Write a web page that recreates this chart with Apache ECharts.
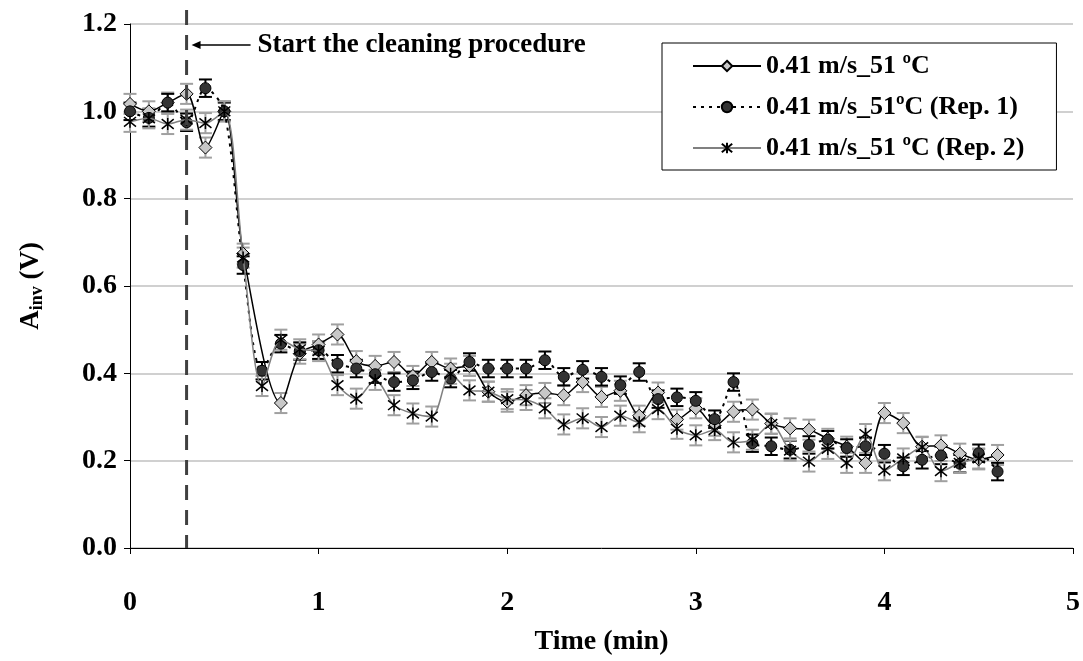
<!DOCTYPE html>
<html>
<head>
<meta charset="utf-8">
<script src="https://cdn.jsdelivr.net/npm/echarts@6/dist/echarts.min.js"></script>
<style>html,body{margin:0;padding:0;background:#fff}#c{width:1083px;height:661px}</style>
</head>
<body>
<div id="c"></div>
<script>
// ---- data (time in min, A_inv in V) ----
const times = [0,0.1,0.2,0.3,0.4,0.5,0.6,0.7,0.8,0.9,1.0,1.1,1.2,1.3,1.4,1.5,1.6,1.7,1.8,1.9,2.0,2.1,2.2,2.3,2.4,2.5,2.6,2.7,2.8,2.9,3.0,3.1,3.2,3.3,3.4,3.5,3.6,3.7,3.8,3.9,4.0,4.1,4.2,4.3,4.4,4.5,4.6];
const seriesNames = ['0.41 m/s_51 ºC', '0.41 m/s_51ºC (Rep. 1)', '0.41 m/s_51 ºC (Rep. 2)'];
const run0 = [1.017,1.0,1.02,1.04,0.917,1.0,0.674,null,0.332,0.445,0.466,0.489,0.428,0.417,0.426,0.394,0.426,0.411,0.417,0.358,0.335,0.35,0.355,0.35,0.38,0.346,0.36,0.303,0.356,0.294,0.32,0.28,0.312,0.317,0.285,0.274,0.271,0.25,0.232,0.195,0.309,0.286,0.232,0.235,0.216,0.203,0.213];
const run1 = [1.0,0.985,1.02,0.975,1.053,1.0,0.648,0.406,0.468,0.451,0.453,0.422,0.411,0.398,0.38,0.384,0.403,0.388,0.426,0.411,0.411,0.411,0.43,0.392,0.408,0.392,0.373,0.403,0.341,0.345,0.337,0.295,0.38,0.24,0.233,0.225,0.236,0.248,0.229,0.233,0.216,0.187,0.202,0.212,0.193,0.217,0.175];
const run2 = [0.976,0.984,0.971,0.981,0.973,1.0,0.665,0.371,0.477,0.455,0.451,0.373,0.342,0.385,0.327,0.308,0.301,0.399,0.361,0.358,0.341,0.339,0.32,0.283,0.297,0.277,0.303,0.288,0.318,0.273,0.258,0.27,0.242,0.248,0.284,0.223,0.198,0.227,0.195,0.261,0.178,0.205,0.231,0.176,0.195,0.205,null];
const err0 = [0.023,0.023,0.023,0.023,0.023,0.023,0.023,0.023,0.023,0.023,0.023,0.023,0.023,0.023,0.023,0.023,0.023,0.023,0.023,0.023,0.023,0.023,0.023,0.023,0.023,0.023,0.023,0.023,0.023,0.023,0.023,0.023,0.023,0.023,0.023,0.023,0.023,0.023,0.023,0.023,0.023,0.023,0.023,0.023,0.023,0.023,0.023];
const err1 = [0.02,0.02,0.02,0.02,0.02,0.02,0.02,0.02,0.02,0.02,0.02,0.02,0.02,0.02,0.02,0.02,0.02,0.02,0.02,0.02,0.02,0.02,0.02,0.02,0.02,0.02,0.02,0.02,0.02,0.02,0.02,0.02,0.02,0.02,0.02,0.02,0.02,0.02,0.02,0.02,0.02,0.02,0.02,0.02,0.02,0.02,0.02];
const err2 = [0.023,0.023,0.023,0.023,0.023,0.023,0.023,0.023,0.023,0.023,0.023,0.023,0.023,0.023,0.023,0.023,0.023,0.023,0.023,0.023,0.023,0.023,0.023,0.023,0.023,0.023,0.023,0.023,0.023,0.023,0.023,0.023,0.023,0.023,0.023,0.023,0.023,0.023,0.023,0.023,0.023,0.023,0.023,0.023,0.023,0.023,0.023];
const xTicks = [0,1,2,3,4,5];
const yTicks = [0,0.2,0.4,0.6,0.8,1.0,1.2];
const cleaningStart = 0.3;
const annotationText = 'Start the cleaning procedure';

const FONT = '"Liberation Serif", "Times New Roman", serif';

function pairs(vals) {
  const out = [];
  times.forEach((t, i) => { if (vals[i] != null) out.push([t, vals[i]]); });
  return out;
}
function errData(vals, errs) {
  const out = [];
  times.forEach((t, i) => { if (vals[i] != null) out.push([t, vals[i], errs[i]]); });
  return out;
}
function errSeries(vals, errs, color) {
  return {
    type: 'custom',
    z: 1,
    silent: true,
    data: errData(vals, errs),
    encode: { x: 0, y: 1 },
    renderItem: function (params, api) {
      const x = api.value(0), y = api.value(1), e = api.value(2);
      const top = api.coord([x, y + e]);
      const bot = api.coord([x, y - e]);
      const w = 6.5;
      const st = { stroke: color, lineWidth: 2 };
      return {
        type: 'group',
        children: [
          { type: 'line', shape: { x1: top[0], y1: top[1], x2: bot[0], y2: bot[1] }, style: st },
          { type: 'line', shape: { x1: top[0] - w, y1: top[1], x2: top[0] + w, y2: top[1] }, style: st },
          { type: 'line', shape: { x1: bot[0] - w, y1: bot[1], x2: bot[0] + w, y2: bot[1] }, style: st }
        ]
      };
    }
  };
}

const chart = echarts.init(document.getElementById('c'), null, { renderer: 'canvas' });
const option = {
  animation: false,
  backgroundColor: '#fff',
  grid: { left: 130, right: 8, top: 24, bottom: 111, containLabel: false },
  xAxis: {
    type: 'value', min: 0, max: 5, interval: 1,
    name: 'Time (min)', nameLocation: 'middle', nameGap: 80,
    nameTextStyle: { fontFamily: FONT, fontWeight: 'bold', fontSize: 28, color: '#000' },
    axisLine: { show: true, lineStyle: { color: '#000', width: 1 } },
    axisTick: { show: true, inside: false, length: 6, lineStyle: { color: '#000' } },
    axisLabel: { margin: 41, fontFamily: FONT, fontWeight: 'bold', fontSize: 28, color: '#000',
      formatter: v => xTicks.includes(v) ? String(v) : '' },
    splitLine: { show: false }
  },
  yAxis: {
    type: 'value', min: 0, max: 1.2, interval: 0.2,
    name: '{a|A}{s|inv}{a| (V)}', nameLocation: 'middle', nameGap: 84, nameRotate: 90,
    nameTextStyle: { rich: {
      a: { fontFamily: FONT, fontWeight: 'bold', fontSize: 27, color: '#000' },
      s: { fontFamily: FONT, fontWeight: 'bold', fontSize: 18, color: '#000', verticalAlign: 'bottom', padding: [12, 0, 0, 0] }
    } },
    axisLine: { show: true, lineStyle: { color: '#000', width: 1 } },
    axisTick: { show: true, inside: false, length: 6, lineStyle: { color: '#000' } },
    axisLabel: { margin: 13, fontFamily: FONT, fontWeight: 'bold', fontSize: 28, color: '#000',
      formatter: v => { const t = yTicks.find(k => Math.abs(k - v) < 1e-9); return t == null ? '' : t.toFixed(1); } },
    splitLine: { show: true, lineStyle: { color: '#c0c0c0', width: 1.5 } }
  },
  legend: {
    data: seriesNames,
    orient: 'vertical', left: 662, top: 43,
    padding: [9, 32, 8, 30], itemGap: 13, itemWidth: 68, itemHeight: 13,
    backgroundColor: '#fff', borderColor: '#000', borderWidth: 1,
    textStyle: { fontFamily: FONT, fontWeight: 'bold', fontSize: 26, color: '#000', lineHeight: 28 }
  },
  series: [
    errSeries(run0, err0, '#a0a0a0'),
    errSeries(run1, err1, '#000'),
    errSeries(run2, err2, '#a0a0a0'),
    {
      name: seriesNames[0], type: 'line', z: 3, smooth: 0.3, data: pairs(run0),
      symbol: 'diamond', symbolSize: 13,
      itemStyle: { color: '#c8c8c8', borderColor: '#000', borderWidth: 1 },
      lineStyle: { color: '#000', width: 1.5 }
    },
    {
      name: seriesNames[1], type: 'line', z: 4, smooth: 0.3, data: pairs(run1),
      symbol: 'circle', symbolSize: 11,
      itemStyle: { color: '#333', borderColor: '#000', borderWidth: 1 },
      lineStyle: { color: '#000', width: 2, type: [3, 5] }
    },
    {
      name: seriesNames[2], type: 'line', z: 5, smooth: 0.3, data: pairs(run2),
      symbol: 'path://M1,1L9,9M9,1L1,9M5,0L5,10', symbolSize: 12,
      itemStyle: { color: 'rgba(0,0,0,0)', borderColor: '#000', borderWidth: 1.5 },
      lineStyle: { color: '#808080', width: 1.5 }
    }
  ]
};
chart.setOption(option);

// annotation: vertical dashed line at start of cleaning and arrow label
const px = chart.convertToPixel({ xAxisIndex: 0 }, cleaningStart);
const yBottom = chart.convertToPixel({ yAxisIndex: 0 }, 0);
const yTop = chart.convertToPixel({ yAxisIndex: 0 }, 1.2);
const ay = yTop + 21;
chart.setOption({
  graphic: [
    { type: 'line', z: 10, shape: { x1: px, y1: yTop - 14, x2: px, y2: yBottom },
      style: { stroke: '#404040', lineWidth: 3, lineDash: [15, 10] } },
    { type: 'line', z: 10, shape: { x1: px + 8, y1: ay, x2: px + 64, y2: ay },
      style: { stroke: '#000', lineWidth: 1.5 } },
    { type: 'polygon', z: 10, shape: { points: [[px + 5, ay], [px + 14, ay - 4], [px + 14, ay + 4]] },
      style: { fill: '#000' } },
    { type: 'text', z: 10, x: px + 71, y: ay,
      style: { text: annotationText, fontFamily: FONT, fontWeight: 'bold', fontSize: 27, fill: '#000', verticalAlign: 'middle', align: 'left' } }
  ]
});
</script>
</body>
</html>
